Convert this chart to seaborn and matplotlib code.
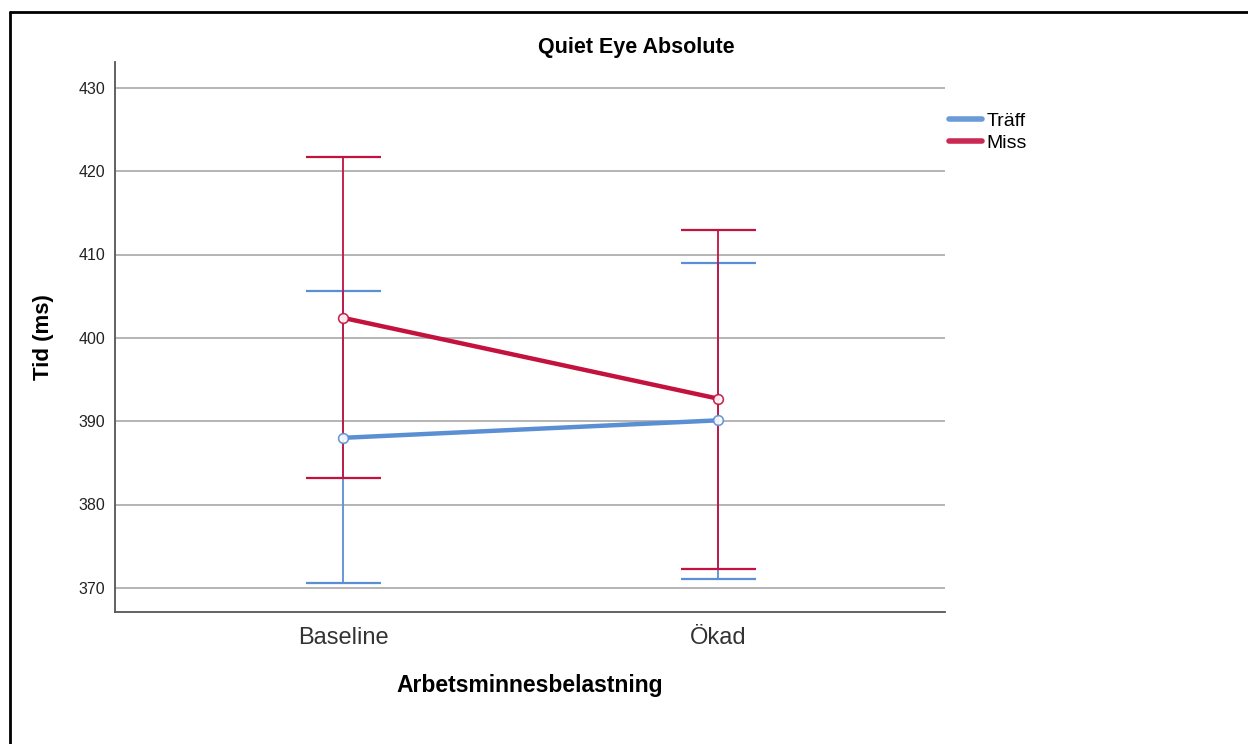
import matplotlib
matplotlib.use("Agg")
import matplotlib.pyplot as plt
from matplotlib.lines import Line2D
import seaborn as sns
import pandas as pd
import numpy as np

# Condition labels and group labels
conditions = ["Baseline", "Ökad"]
groups = ["Träff", "Miss"]

# Mean fixation time (ms) per group and condition
mean_traff = [388.0, 390.1]
mean_miss = [402.4, 392.7]

# 95% CI bounds per group and condition
ci_low_traff = [370.6, 371.1]
ci_high_traff = [405.6, 409.0]
ci_low_miss = [383.2, 372.3]
ci_high_miss = [421.7, 413.0]

colors = {"Träff": "#5b8fd4", "Miss": "#c4123f"}

sns.set_theme(style="white")
plt.rcParams["font.family"] = ["Liberation Sans", "DejaVu Sans"]
plt.rcParams["text.color"] = "black"

df = pd.DataFrame({
    "pos": list(range(len(conditions))) * 2,
    "Tid": mean_traff + mean_miss,
    "Grupp": [groups[0]] * len(conditions) + [groups[1]] * len(conditions),
})

W, H = 1248, 744
fig = plt.figure(figsize=(W / 100, H / 100), dpi=100)
ax = fig.add_axes([115 / W, 1 - 612 / H, (945 - 115) / W, (612 - 62) / H])

sns.lineplot(data=df, x="pos", y="Tid", hue="Grupp", palette=colors,
             hue_order=groups, linewidth=3.2, ax=ax, legend=True, zorder=4)

# Hollow circle markers at the means
for g, means in zip(groups, [mean_traff, mean_miss]):
    ax.plot(range(len(conditions)), means, linestyle="none", marker="o",
            markersize=7, markerfacecolor="white", markeredgecolor=colors[g],
            markeredgewidth=1.2, zorder=5, alpha=0.9)

# Confidence interval bars
for g, lo, hi, means in zip(groups, [ci_low_traff, ci_low_miss],
                            [ci_high_traff, ci_high_miss], [mean_traff, mean_miss]):
    m = np.array(means)
    err = np.vstack([m - np.array(lo), np.array(hi) - m])
    ax.errorbar(range(len(conditions)), m, yerr=err, fmt="none",
                ecolor=colors[g], elinewidth=1.3, capsize=27, capthick=1.6,
                zorder=3)

ax.set_xlim(-0.608, 1.605)
ax.set_ylim(367.1, 433.1)
ax.set_yticks([370, 380, 390, 400, 410, 420, 430])
ax.set_xticks(range(len(conditions)))
ax.set_xticklabels(conditions, fontsize=17, color="#333333")
ax.tick_params(axis="y", labelsize=11.5, colors="#222222", length=0, pad=7)
ax.tick_params(axis="x", length=0, pad=11)
ax.yaxis.grid(True, color="#b4b4b4", linewidth=1.4)
ax.set_axisbelow(True)
for s in ["top", "right"]:
    ax.spines[s].set_visible(False)
for s in ["left", "bottom"]:
    ax.spines[s].set_color("#555555")
    ax.spines[s].set_linewidth(1.3)

ax.set_xlabel("Arbetsminnesbelastning", fontsize=16.5, fontweight="bold",
              labelpad=18, color="black")
ax.set_ylabel("Tid (ms)", fontsize=16, fontweight="bold", labelpad=18,
              color="black")

fig.text(636 / W, 1 - 48 / H, "Quiet Eye Absolute", ha="center", va="center",
         fontsize=15.5, fontweight="bold", color="black")

leg = ax.legend(loc="upper left", bbox_to_anchor=(1.0 - 8 / 830, 0.93), frameon=False,
                fontsize=14, handlelength=1.7, handletextpad=0.25,
                labelspacing=0.25, borderaxespad=0.2)
for line in leg.get_lines():
    line.set_linewidth(4)
    line.set_alpha(0.9)

# Outer frame lines along the top and left of the figure
fig.add_artist(Line2D([10 / W, 10 / W], [0, 1 - 12 / H], transform=fig.transFigure,
                      color="black", linewidth=2))
fig.add_artist(Line2D([10 / W, 1], [1 - 12 / H, 1 - 12 / H], transform=fig.transFigure,
                      color="black", linewidth=2))

fig.savefig("out.png", dpi=100)
